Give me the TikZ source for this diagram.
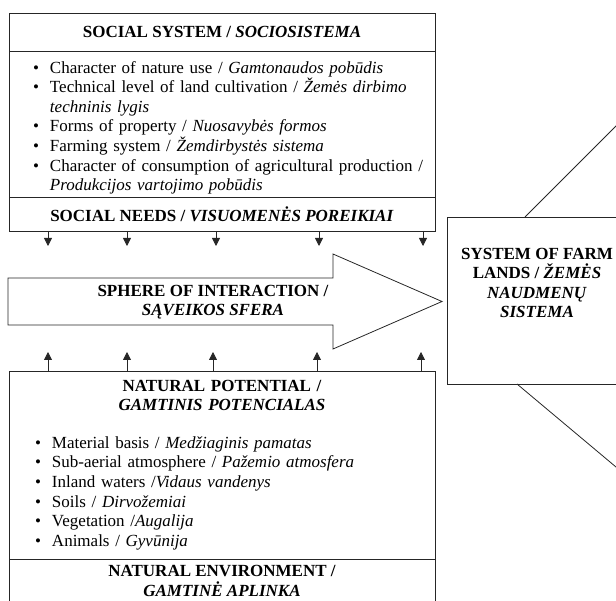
\documentclass[tikz,border=0pt]{standalone}
\usepackage{fontspec}
\setmainfont{Liberation Serif}
\usetikzlibrary{positioning,arrows.meta}
\newcommand{\bitem}[1]{\par\noindent\makebox[17pt][l]{\textbullet}#1}
\newcommand{\bcont}[1]{\par\noindent\hspace*{17pt}#1}

\begin{document}
\begin{tikzpicture}[x=1pt,y=-1pt,
  cell/.style={rectangle,draw=black!85,line width=0.8pt,minimum width=426pt,
    inner sep=0pt,outer sep=0pt,font=\fontsize{17}{19.6}\selectfont},
  head/.style={cell,font=\fontsize{17}{19.6}\selectfont\bfseries,align=center},
  listcell/.style={cell,align=left},
  label/.style={inner sep=0pt,font=\fontsize{17}{19.6}\selectfont\bfseries,align=center},
  line/.style={draw=black!85,line width=0.8pt},
  arr/.style={line,-{Triangle[length=8pt,width=8pt]}}]
  \useasboundingbox (0,0) rectangle (616,601);
  \clip (0,0) rectangle (616,601);

  % social system
  \node[head,minimum height=38pt] (social) at (222,32) {SOCIAL SYSTEM / \textit{SOCIOSISTEMA}};
  \node[listcell,text width=378pt,minimum height=146pt] (socialbody) [below=0pt of social] {
    \bitem{Character of nature use / \textit{Gamtonaudos pobūdis}}
    \bitem{Technical level of land cultivation / \textit{Žemės dirbimo}}
    \bcont{\textit{techninis lygis}}
    \bitem{Forms of property / \textit{Nuosavybės formos}}
    \bitem{Farming system / \textit{Žemdirbystės sistema}}
    \bitem{\mbox{Character of consumption of agricultural production /}}
    \bcont{\textit{Produkcijos vartojimo pobūdis}}};
  \node[head,minimum height=34pt] (needs) [below=0pt of socialbody] {SOCIAL NEEDS / \textit{VISUOMENĖS POREIKIAI}};

  % sphere of interaction
  \draw[line] (8,278) -- (333,278) -- (333,254) -- (442,301.5) -- (333,349)
    -- (333,325) -- (8,325) -- cycle;
  \node[label] (sphere) at (213,302) {SPHERE OF INTERACTION /\\ \textit{SĄVEIKOS SFERA}};

  % natural environment
  \node[listcell,text width=374pt,minimum height=188pt] (natpot) at (222,465) {
    {\centering\bfseries NATURAL POTENTIAL /\\ \textit{GAMTINIS POTENCIALAS}\par}
    \vspace{18pt}
    \bitem{Material basis / \textit{Medžiaginis pamatas}}
    \bitem{Sub-aerial atmosphere / \textit{Pažemio atmosfera}}
    \bitem{Inland waters /\textit{Vidaus vandenys}}
    \bitem{Soils / \textit{Dirvožemiai}}
    \bitem{Vegetation /\textit{Augalija}}
    \bitem{Animals / \textit{Gyvūnija}}};
  \node[head,minimum height=44pt] (natenv) [below=0pt of natpot] {NATURAL ENVIRONMENT /\\ \textit{GAMTINĖ APLINKA}};

  \coordinate (d1) at (48,246);
  \coordinate (d2) at (127,246);
  \coordinate (d3) at (216,246);
  \coordinate (d4) at (319,246);
  \coordinate (d5) at (423,246);
  \draw[arr] (d1 |- needs.south) -- (d1);
  \draw[arr] (d2 |- needs.south) -- (d2);
  \draw[arr] (d3 |- needs.south) -- (d3);
  \draw[arr] (d4 |- needs.south) -- (d4);
  \draw[arr] (d5 |- needs.south) -- (d5);

  \coordinate (u1) at (48,352);
  \coordinate (u2) at (127,352);
  \coordinate (u3) at (213,352);
  \coordinate (u4) at (317,352);
  \coordinate (u5) at (421,352);
  \draw[arr] (u1 |- natpot.north) -- (u1);
  \draw[arr] (u2 |- natpot.north) -- (u2);
  \draw[arr] (u3 |- natpot.north) -- (u3);
  \draw[arr] (u4 |- natpot.north) -- (u4);
  \draw[arr] (u5 |- natpot.north) -- (u5);

  % farm lands
  \node[cell,minimum width=179pt,minimum height=167pt,anchor=north west] (farm) at (447,217) {};
  \node[label] (farmlabel) at (537,283) {SYSTEM OF FARM\\ LANDS / \textit{ŽEMĖS}\\ \textit{NAUDMENŲ}\\ \textit{SISTEMA}};
  \coordinate (farmup) at (645,97);
  \coordinate (farmdown) at (647,493);
  \draw[line] ([xshift=78pt]farm.north west) -- (farmup);
  \draw[line] ([xshift=70pt]farm.south west) -- (farmdown);

\end{tikzpicture}
\end{document}
